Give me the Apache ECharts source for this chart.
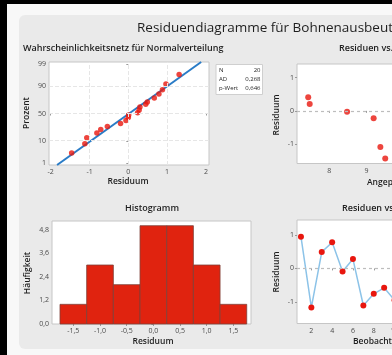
<!DOCTYPE html>
<html><head><meta charset="utf-8">
<script src="https://cdn.jsdelivr.net/npm/echarts@6/dist/echarts.min.js"></script>
<style>html,body{margin:0;padding:0;background:#000}#c{width:392px;height:355px}</style>
</head><body><div id="c"></div>
<script>
// ---- data ----
const probResiduals = [-1.46,-1.12,-1.07,-0.81,-0.71,-0.54,-0.20,-0.06,0.00,0.01,0.24,0.28,0.30,0.45,0.49,0.67,0.79,0.88,0.97,1.31];
const probPercents  = [3.2,7.8,12.8,17.9,22.5,27,32,37,42.5,47,51.5,56.5,62,67,70.5,76.5,82,86.7,91.8,96.7];
const probTickPercents = [1,10,50,90,99];
const probXTicks = [-2,-1,0,1,2];
const fittedValues    = [7.44,7.48,8.48,9.19,9.37,9.50];
const fittedResiduals = [0.41,0.21,-0.03,-0.22,-1.09,-1.44];
const fittedXTicks = [8,9,10,11,12];
const residualTicks = [-1,0,1];
const histBinCenters = [-1.5,-1.0,-0.5,0.0,0.5,1.0,1.5];
const histCounts     = [1,3,2,5,5,3,1];
const histBinWidth = 0.5;
const histYTicks = [0,1.2,2.4,3.6,4.8];
const orderObs       = [1,2,3,4,5,6,7,8,9,10];
const orderResiduals = [0.95,-1.17,0.49,0.78,-0.09,0.28,-1.11,-0.76,-0.58,-0.95];
const orderXTicks = [2,4,6,8,10,12,14,16,18,20];
const statLabels = ['N','AD','p-Wert'];
const statValues = ['20','0,268','0,646'];

function probit(p){
 const a=[-3.969683028665376e+01,2.209460984245205e+02,-2.759285104469687e+02,1.383577518672690e+02,-3.066479806614716e+01,2.506628277459239e+00];
 const b=[-5.447609879822406e+01,1.615858368580409e+02,-1.556989798598866e+02,6.680131188771972e+01,-1.328068155288572e+01];
 const c=[-7.784894002430293e-03,-3.223964580411365e-01,-2.400758277161838e+00,-2.549732539343734e+00,4.374664141464968e+00,2.938163982698783e+00];
 const d=[7.784695709041462e-03,3.224671290700398e-01,2.445134137142996e+00,3.754408661907416e+00];
 const pl=0.02425, ph=1-pl; let q,r;
 if(p<pl){q=Math.sqrt(-2*Math.log(p));return (((((c[0]*q+c[1])*q+c[2])*q+c[3])*q+c[4])*q+c[5])/((((d[0]*q+d[1])*q+d[2])*q+d[3])*q+1);}
 if(p<=ph){q=p-0.5;r=q*q;return (((((a[0]*r+a[1])*r+a[2])*r+a[3])*r+a[4])*r+a[5])*q/(((((b[0]*r+b[1])*r+b[2])*r+b[3])*r+b[4])*r+1);}
 q=Math.sqrt(-2*Math.log(1-p));return -(((((c[0]*q+c[1])*q+c[2])*q+c[3])*q+c[4])*q+c[5])/((((d[0]*q+d[1])*q+d[2])*q+d[3])*q+1);
}
const probTickZ = probTickPercents.map(p=>probit(p/100));
const Z_MAX = 2.42;
const n = probResiduals.length;
const mean = probResiduals.reduce((s,v)=>s+v,0)/n;
const sd = Math.sqrt(probResiduals.reduce((s,v)=>s+(v-mean)*(v-mean),0)/(n-1));
const fitLine = [[mean-sd*Z_MAX,-Z_MAX],[mean+sd*Z_MAX,Z_MAX]];
const comma = v => (Math.round(v*10)/10).toFixed(1).replace('.',',');

const FONT = '"Open Sans", "Noto Sans", sans-serif';
const RED = '#e8160e';
const labelStyle = {fontSize:7, color:'#4a4a4a', fontFamily:FONT};
const tick = {show:true, length:2, lineStyle:{color:'#9a9a9a'}};

function xAx(grid, min, max, ticks, fmt, margin){
  return {type:'value', gridIndex:grid, min, max, axisLine:{show:false},
    axisTick:Object.assign({customValues:ticks}, tick),
    axisLabel:Object.assign({customValues:ticks, margin:margin, formatter:fmt}, labelStyle),
    splitLine:{show:false}};
}
function yAx(grid, min, max, ticks, fmt){
  return {type:'value', gridIndex:grid, min, max, axisLine:{show:false},
    axisTick:Object.assign({customValues:ticks}, tick),
    axisLabel:Object.assign({customValues:ticks, margin:3, formatter:fmt}, labelStyle),
    splitLine:{show:false}};
}
const gridBase = {show:true, backgroundColor:'#ffffff', borderColor:'#c6c6c6', borderWidth:1, containLabel:false, outerBoundsMode:'none'};

function txt(text, x, y, size, weight, align, rot){
  return {type:'text', x, y, rotation: rot||0, z:10,
    style:{text, font: (weight||'normal')+' '+size+'px '+FONT, fill:'#1e1e1e',
      textAlign:align||'left', textVerticalAlign:'middle', align:align||'left', verticalAlign:'middle'}};
}

const probGridY = probTickZ.slice(1,4);
const option = {
  animation:false,
  backgroundColor:'#000000',
  grid:[
    Object.assign({left:49, top:62, width:160, height:103}, gridBase),
    Object.assign({left:297, top:64, width:200, height:99.5}, gridBase),
    Object.assign({left:52, top:221, width:199, height:103}, gridBase),
    Object.assign({left:297, top:220, width:200, height:103.5}, gridBase)
  ],
  xAxis:[
    xAx(0, -2.044, 2.08, probXTicks, v=>String(v), 3),
    xAx(1, 7.14, 12.49, fittedXTicks, v=>String(v), 4),
    xAx(2, -1.90, 1.83, histBinCenters, comma, 3),
    xAx(3, 0.62, 19.85, orderXTicks, v=>String(v), 4)
  ],
  yAxis:[
    yAx(0, -Z_MAX, Z_MAX, probTickZ, v=>{const i=probTickZ.findIndex(z=>Math.abs(z-v)<1e-6);return i>=0?String(probTickPercents[i]):'';}),
    yAx(1, -1.59, 1.415, residualTicks, v=>String(v)),
    yAx(2, 0, 5.24, histYTicks, comma),
    yAx(3, -1.65, 1.45, residualTicks, v=>String(v))
  ],
  series:[
    {type:'line', xAxisIndex:0, yAxisIndex:0, data:fitLine, symbol:'none', silent:true,
      lineStyle:{color:'#2a7cc7', width:2}, z:3,
      markLine:{silent:true, symbol:'none', label:{show:false},
        lineStyle:{color:'#e6e6e6', type:'dashed', width:1},
        data: probXTicks.slice(1,4).map(v=>({xAxis:v})).concat(probGridY.map(v=>({yAxis:v})))}},
    {type:'scatter', xAxisIndex:0, yAxisIndex:0, data:probResiduals.map((v,i)=>[v, probit(probPercents[i]/100)]),
      symbolSize:5.5, itemStyle:{color:RED}, z:4},
    {type:'scatter', xAxisIndex:1, yAxisIndex:1, data:fittedValues.map((v,i)=>[v, fittedResiduals[i]]),
      symbolSize:6, itemStyle:{color:RED}, z:4,
      markLine:{silent:true, symbol:'none', label:{show:false}, lineStyle:{color:'#bdbdbd', type:[3,3], width:1.2}, data:[{yAxis:0}]}},
    {type:'custom', xAxisIndex:2, yAxisIndex:2, data:histBinCenters.map((c,i)=>[c, histCounts[i]]),
      encode:{x:0, y:1},
      renderItem:(params, api)=>{
        const c = api.value(0), h = api.value(1);
        const p0 = api.coord([c-histBinWidth/2, h]);
        const p1 = api.coord([c+histBinWidth/2, 0]);
        return {type:'rect', shape:{x:p0[0], y:p0[1], width:p1[0]-p0[0], height:p1[1]-p0[1]},
          style:{fill:'#e0230f', stroke:'#7d4038', lineWidth:0.8}};
      }},
    {type:'line', xAxisIndex:3, yAxisIndex:3, data:orderObs.map((o,i)=>[o, orderResiduals[i]]),
      symbol:'circle', symbolSize:6, itemStyle:{color:RED}, lineStyle:{color:'#8cc3e8', width:1.5}, z:4,
      markLine:{silent:true, symbol:'none', label:{show:false}, lineStyle:{color:'#bdbdbd', type:[3,3], width:1.2}, data:[{yAxis:0}]}}
  ],
  graphic:[
    {type:'rect', z:-10, shape:{x:7, y:4, width:400, height:360}, style:{fill:'#f8f8f8'}},
    {type:'rect', z:-9, shape:{x:19, y:15, width:400, height:334, r:6}, style:{fill:'#eaeaea'}},
    txt('Residuendiagramme für Bohnenausbeute', 137, 28, 13.5, 'normal'),
    txt('Wahrscheinlichkeitsnetz für Normalverteilung', 23, 48, 9, '600'),
    txt('Residuen vs. Angepasste Werte', 339, 48, 9, '600'),
    txt('Histogramm', 152, 208, 9, '600', 'center'),
    txt('Residuen vs. Reihenfolge', 342, 208, 9, '600'),
    txt('Prozent', 27, 113, 8.5, '600', 'center', Math.PI/2),
    txt('Residuum', 128, 182, 8.5, '600', 'center'),
    txt('Häufigkeit', 28, 273, 8.5, '600', 'center', Math.PI/2),
    txt('Residuum', 153, 341.5, 8.5, '600', 'center'),
    txt('Residuum', 277, 115, 8.5, '600', 'center', Math.PI/2),
    txt('Residuum', 277, 272, 8.5, '600', 'center', Math.PI/2),
    txt('Angepasster Wert', 367, 182.5, 8.5, '600'),
    txt('Beobachtungsreihenfolge', 353, 341.5, 8.5, '600'),
    {type:'rect', z:5, shape:{x:216, y:64.5, width:46.5, height:30}, style:{fill:'#ffffff', stroke:'#cfcfcf', lineWidth:1}},
  ].concat(statLabels.map((s,i)=>txt(s, 219, 70.5+i*8.7, 6, 'normal'))).concat(statValues.map((s,i)=>txt(s, 260.5, 70.5+i*8.7, 6, 'normal', 'right')))
};
const chart = echarts.init(document.getElementById('c'), null, {renderer:'canvas'});
chart.setOption(option);
</script></body></html>
